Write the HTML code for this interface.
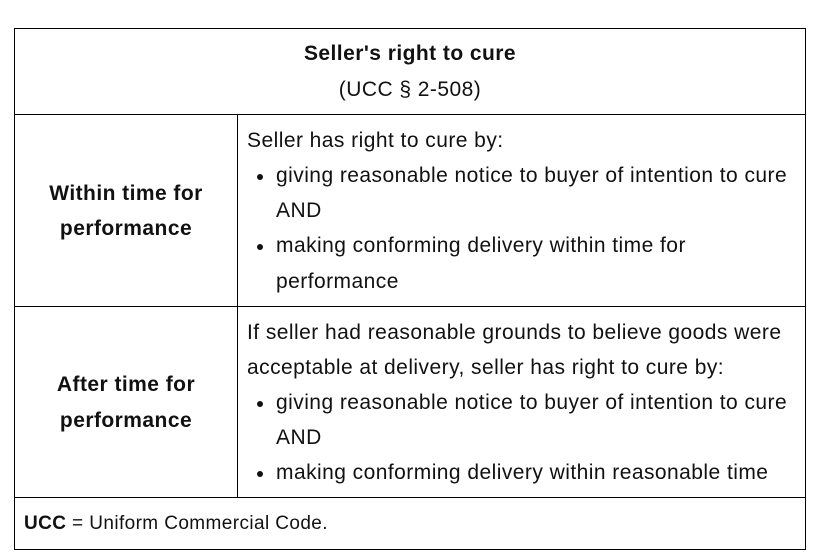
<!DOCTYPE html>
<html><head><style>
body{margin:0;width:834px;height:553px;background:#fff;position:relative;font-family:"Liberation Sans",Arial,sans-serif;color:#111;font-size:21px;letter-spacing:0.45px;overflow:hidden}
.h{position:absolute;background:#000;height:1px}
.v{position:absolute;background:#000;width:1px}
.t{position:absolute;line-height:24px;white-space:nowrap}
.c{text-align:center;transform:translateX(-50%)}
.b{font-weight:bold}
.dot{position:absolute;width:6px;height:6px;border-radius:50%;background:#111}
</style></head><body>
<div class="h" style="left:14px;top:28px;width:792px"></div>
<div class="h" style="left:14px;top:114px;width:792px"></div>
<div class="h" style="left:14px;top:306px;width:792px"></div>
<div class="h" style="left:14px;top:497px;width:792px"></div>
<div class="h" style="left:14px;top:549px;width:792px"></div>
<div class="v" style="left:14px;top:28px;height:522px"></div>
<div class="v" style="left:805px;top:28px;height:522px"></div>
<div class="v" style="left:237px;top:114px;height:383px"></div>

<div class="t c b" style="left:410px;top:42px">Seller's right to cure</div>
<div class="t c" style="left:410px;top:78px">(UCC § 2-508)</div>

<div class="t c b" style="left:126px;top:182px">Within time for</div>
<div class="t c b" style="left:126px;top:217px">performance</div>
<div class="t c b" style="left:126px;top:373px">After time for</div>
<div class="t c b" style="left:126px;top:409px">performance</div>

<div class="t" style="left:247px;top:129px">Seller has right to cure by:</div>
<div class="dot" style="left:257px;top:174px"></div>
<div class="t" style="left:276px;top:164px">giving reasonable notice to buyer of intention to cure</div>
<div class="t" style="left:276px;top:199px">AND</div>
<div class="dot" style="left:257px;top:244px"></div>
<div class="t" style="left:276px;top:234px">making conforming delivery within time for</div>
<div class="t" style="left:276px;top:270px">performance</div>

<div class="t" style="left:247px;top:321px">If seller had reasonable grounds to believe goods were</div>
<div class="t" style="left:247px;top:356px">acceptable at delivery, seller has right to cure by:</div>
<div class="dot" style="left:257px;top:401px"></div>
<div class="t" style="left:276px;top:391px">giving reasonable notice to buyer of intention to cure</div>
<div class="t" style="left:276px;top:426px">AND</div>
<div class="dot" style="left:257px;top:471px"></div>
<div class="t" style="left:276px;top:461px">making conforming delivery within reasonable time</div>

<div class="t" style="left:24px;top:512px;font-size:19px;letter-spacing:0.4px"><b>UCC</b> = Uniform Commercial Code.</div>
</body></html>
